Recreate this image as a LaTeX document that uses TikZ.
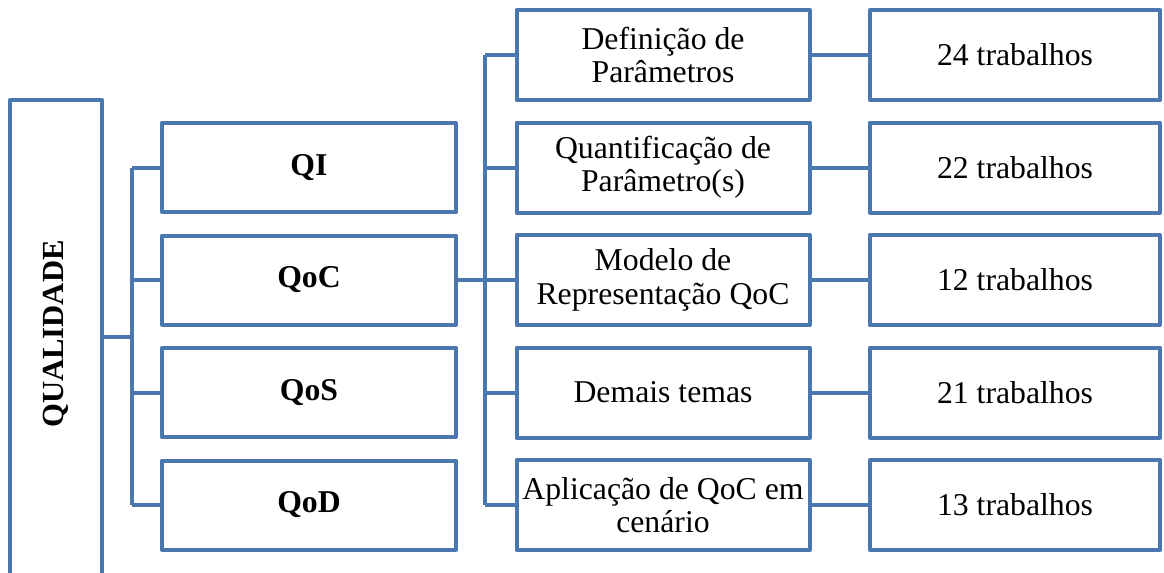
\documentclass[tikz,border=0pt]{standalone}
\usepackage{fontspec}
\setmainfont{Liberation Serif}
\definecolor{boxblue}{RGB}{74,119,174}
\begin{document}
\begin{tikzpicture}[x=0.75pt,y=-0.75pt,
  box/.style={draw=boxblue,line width=3pt,line join=round,fill=white,inner sep=2pt,
    font=\fontsize{23.8}{25}\selectfont,align=center},
  topbox/.style={box,minimum width=294*0.75pt,minimum height=89*0.75pt,font=\fontsize{23.8}{25}\selectfont\bfseries},
  midbox/.style={box,minimum width=293*0.75pt,minimum height=90*0.75pt},
  endbox/.style={box,minimum width=290*0.75pt,minimum height=90*0.75pt},
  link/.style={draw=boxblue,line width=3pt}]

\useasboundingbox (0,0) rectangle (1164,572);
\clip (0,0) rectangle (1164,572);

\node (Q) at (56,340) [box,minimum width=92*0.75pt,minimum height=480*0.75pt] {};
\node (Qtext) at (56,334) [rotate=90,font=\fontsize{23}{25}\selectfont\bfseries] {QUALIDADE};

\node (QI) at (309,167.5) [topbox] {QI};
\node (QoC) at (309,280) [topbox] {QoC};
\node (QoS) at (309,392.5) [topbox] {QoS};
\node (QoD) at (309,505) [topbox] {QoD};

\node (D) at (663,55) [midbox] {Definição de\\Parâmetros};
\node (P) at (663,167.5) [midbox] {Quantificação de\\Parâmetro(s)};
\node (M) at (663,280) [midbox] {Modelo de\\Representação QoC};
\node (T) at (663,392.5) [midbox] {Demais temas};
\node (A) at (663,505) [midbox] {Aplicação de QoC em\\cenário};

\node (D3) at (1015,55) [endbox] {24 trabalhos};
\node (P3) at (1015,167.5) [endbox] {22 trabalhos};
\node (M3) at (1015,280) [endbox] {12 trabalhos};
\node (T3) at (1015,392.5) [endbox] {21 trabalhos};
\node (A3) at (1015,505) [endbox] {13 trabalhos};

\coordinate (t1) at (132,337);
\coordinate (t2) at (485,280);

% left tree
\draw [link] (Q.east |- t1) -- (t1);
\draw [link] (t1 |- QI) -- (t1 |- QoD);
\foreach \n in {QI,QoC,QoS,QoD}
  \draw [link] (t1 |- \n) -- (\n.west);

% middle tree
\draw [link] (QoC.east) -- (M.west);
\draw [link] (t2 |- D) -- (t2 |- A);
\foreach \n in {D,P,T,A}
  \draw [link] (t2 |- \n) -- (\n.west);

% counts
\foreach \n in {D,P,M,T,A}
  \draw [link] (\n.east) -- (\n3.west);

\end{tikzpicture}
\end{document}
